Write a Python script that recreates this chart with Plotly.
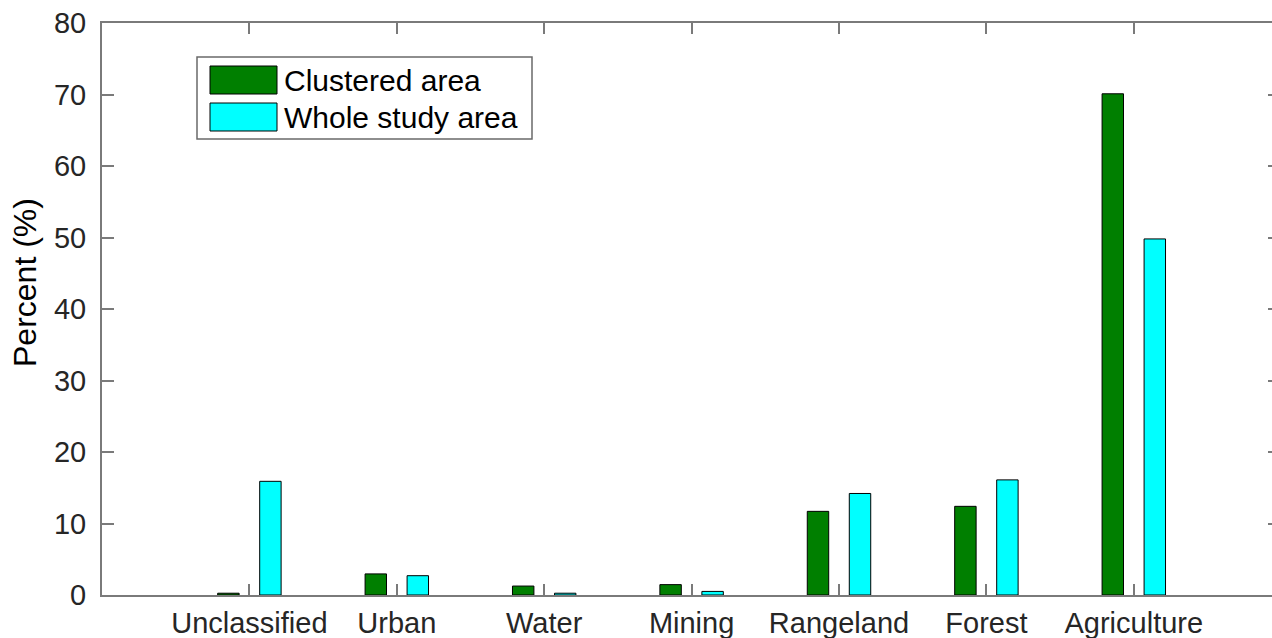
import plotly.graph_objects as go

categories = ["Unclassified", "Urban", "Water", "Mining", "Rangeland", "Forest", "Agriculture"]
clustered = [0.25, 2.95, 1.25, 1.45, 11.7, 12.4, 70.1]
whole = [15.9, 2.7, 0.25, 0.5, 14.2, 16.1, 49.8]
series_names = ["Clustered area", "Whole study area"]
y_ticks = [0, 10, 20, 30, 40, 50, 60, 70, 80]

positions = list(range(1, len(categories) + 1))

W, H = 1272, 638
ML, MR, MT, MB = 102, 0, 23, 43
PW, PH = W - ML - MR, H - MT - MB
unit = 147.4
xmax = PW / unit

GREEN = "#007f00"
CYAN = "#00ffff"
AX = "#7a7a7a"
TXT = "#262626"
FONT = "Liberation Sans, Arial, sans-serif"

fig = go.Figure()
fig.add_trace(go.Bar(x=positions, y=clustered, name=series_names[0],
                     marker=dict(color=GREEN, line=dict(color="#000000", width=1)),
                     showlegend=False))
fig.add_trace(go.Bar(x=positions, y=whole, name=series_names[1],
                     marker=dict(color=CYAN, line=dict(color="#000000", width=1)),
                     showlegend=False))
# invisible trace to anchor mirrored axes
fig.add_trace(go.Scatter(x=[positions[0]], y=[y_ticks[0]], xaxis="x2", yaxis="y2",
                         mode="markers", marker=dict(opacity=0), showlegend=False,
                         hoverinfo="skip"))

def px2paper_x(px):
    return (px - ML) / PW

def px2paper_y(py):
    return (H - MB - py) / PH

shapes = []
# legend box
shapes.append(dict(type="rect", xref="paper", yref="paper",
                   x0=px2paper_x(197), x1=px2paper_x(532),
                   y0=px2paper_y(139), y1=px2paper_y(57),
                   line=dict(color="#6a6a6a", width=1.5), fillcolor="white", layer="above"))
shapes.append(dict(type="rect", xref="paper", yref="paper",
                   x0=px2paper_x(210), x1=px2paper_x(277),
                   y0=px2paper_y(94), y1=px2paper_y(66),
                   line=dict(color="#000000", width=1), fillcolor=GREEN, layer="above"))
shapes.append(dict(type="rect", xref="paper", yref="paper",
                   x0=px2paper_x(210), x1=px2paper_x(277),
                   y0=px2paper_y(131), y1=px2paper_y(103),
                   line=dict(color="#000000", width=1), fillcolor=CYAN, layer="above"))

annotations = []
for name, cy in zip(series_names, [80, 117]):
    annotations.append(dict(text=name, xref="paper", yref="paper",
                            x=px2paper_x(282), y=px2paper_y(cy),
                            xanchor="left", yanchor="middle", showarrow=False,
                            font=dict(family=FONT, size=30, color="#000000")))
annotations.append(dict(text="Percent (%)", xref="paper", yref="paper",
                        x=px2paper_x(25), y=px2paper_y(283), textangle=-90,
                        xanchor="center", yanchor="middle", showarrow=False,
                        font=dict(family=FONT, size=32, color="#000000")))

fig.update_layout(
    width=W, height=H,
    margin=dict(l=ML, r=MR, t=MT, b=MB, pad=0),
    paper_bgcolor="white", plot_bgcolor="white",
    barmode="group", bargap=0.43, bargroupgap=0.49,
    shapes=shapes, annotations=annotations,
    font=dict(family=FONT, size=29, color=TXT),
    xaxis=dict(range=[0, xmax], tickmode="array", tickvals=positions, ticktext=categories,
               showline=True, linecolor=AX, linewidth=2, ticks="inside", ticklen=11,
               tickwidth=1.5, tickcolor=AX, showgrid=False, zeroline=False, automargin=False,
               ticklabelstandoff=1, tickfont=dict(family=FONT, size=29, color=TXT)),
    yaxis=dict(range=[0, 80], tickmode="array", tickvals=y_ticks,
               showline=True, linecolor=AX, linewidth=2, ticks="inside", ticklen=12,
               tickwidth=1.5, tickcolor=AX, showgrid=False, zeroline=False, automargin=False,
               ticklabelstandoff=8, tickfont=dict(family=FONT, size=29, color=TXT)),
    xaxis2=dict(overlaying="x", side="top", anchor="y2", range=[0, xmax], tickmode="array",
                tickvals=positions, showticklabels=False, showline=True, linecolor=AX,
                linewidth=2, ticks="inside", ticklen=11, tickwidth=1.5, tickcolor=AX,
                showgrid=False, zeroline=False, automargin=False),
    yaxis2=dict(overlaying="y", side="right", anchor="x2", range=[0, 80], tickmode="array",
                tickvals=y_ticks, showticklabels=False, showline=False, ticks="inside",
                ticklen=4, tickwidth=1.5, tickcolor=AX, showgrid=False, zeroline=False,
                automargin=False),
)

fig.write_html("out.html", config={"displayModeBar": False},
               post_script="document.body.style.margin='0';document.body.style.overflow='hidden';")
